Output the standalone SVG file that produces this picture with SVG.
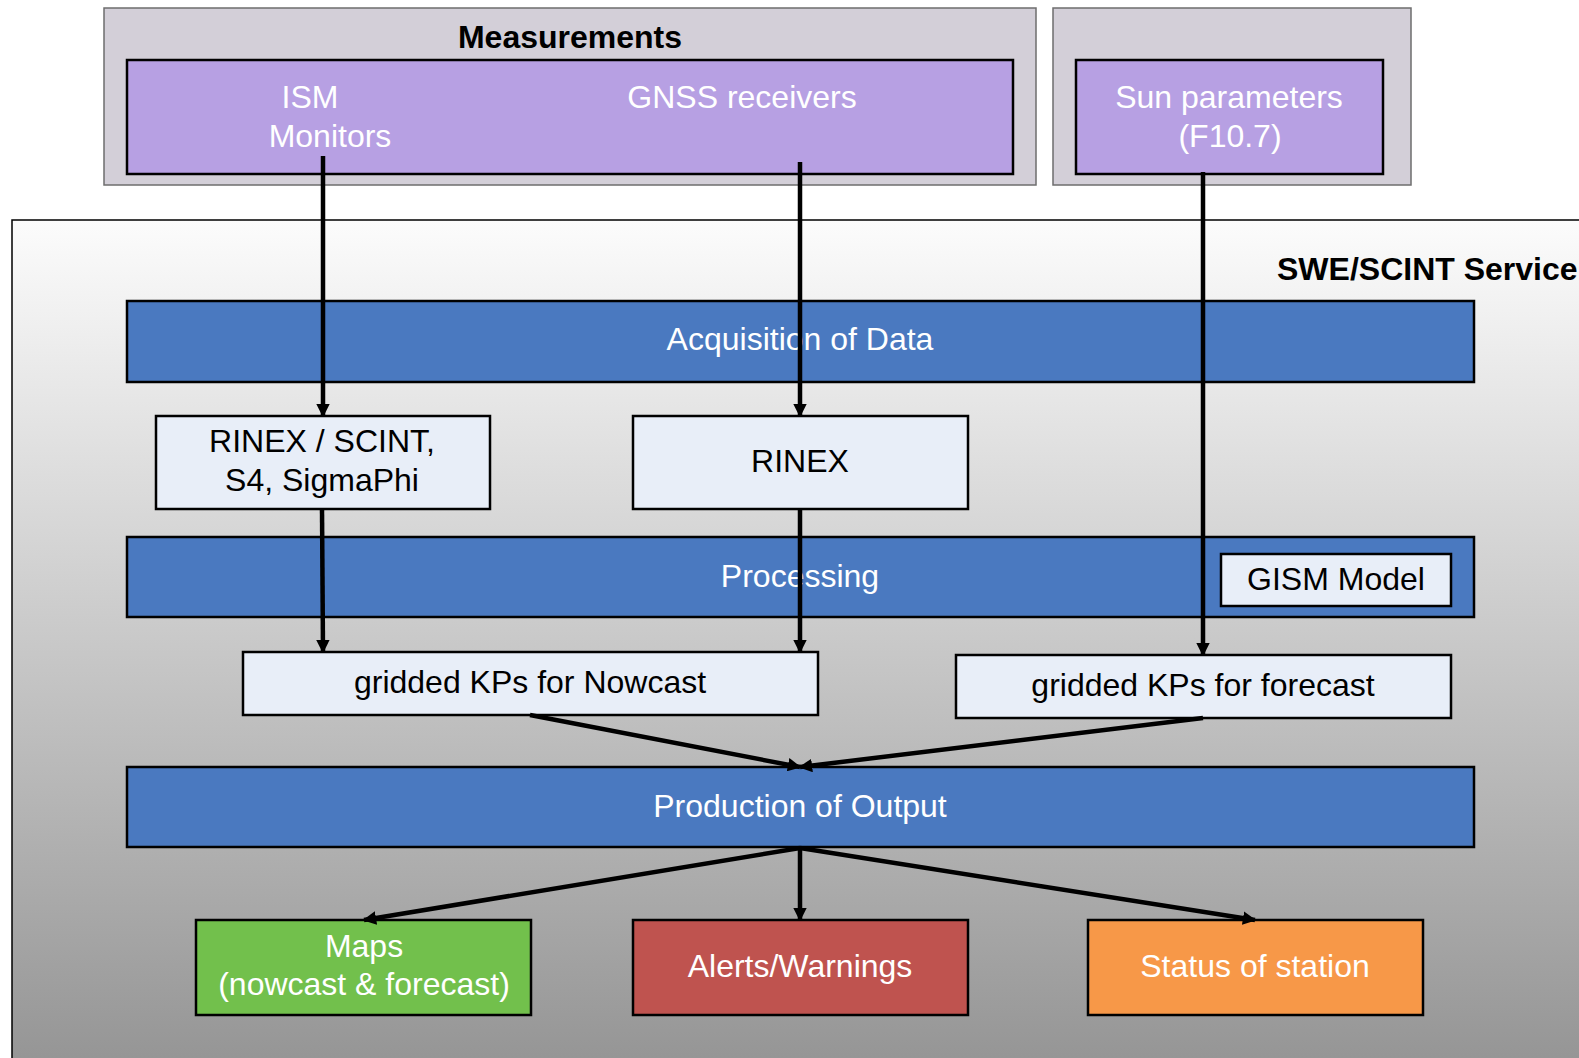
<svg xmlns="http://www.w3.org/2000/svg" width="1579" height="1058" viewBox="0 0 1579 1058">
<defs>
<linearGradient id="svcGrad" x1="0" y1="0" x2="0" y2="1">
<stop offset="0" stop-color="#fcfcfc"/>
<stop offset="1" stop-color="#939393"/>
</linearGradient>
<marker id="arr" viewBox="0 0 10 10" refX="9" refY="5" markerWidth="3" markerHeight="3" orient="auto" markerUnits="strokeWidth">
<path d="M0,0 L10,5 L0,10 z" fill="#000"/>
</marker>
</defs>
<style>
.t{font-family:"Liberation Sans",Arial,sans-serif;font-size:32px;text-anchor:middle}
.w{fill:#ffffff}
.k{fill:#000000}
.b{font-weight:bold}
.grp{fill:#d3cfd8;stroke:#6e6e6e;stroke-width:1.5}
.pur{fill:#b7a0e3;stroke:#000;stroke-width:2.5}
.bar{fill:#4a79c0;stroke:#000;stroke-width:2.5}
.lt{fill:#e8eef8;stroke:#000;stroke-width:2.5}
.con{stroke:#000;stroke-width:4.5;fill:none}
</style>

<g id="service">
<rect x="12" y="220" width="1600" height="860" fill="url(#svcGrad)" stroke="#000" stroke-width="1.5"/>
<text class="t k b" x="1277" y="280" style="text-anchor:start">SWE/SCINT Service</text>
</g>

<g id="measurements">
<rect class="grp" x="104" y="8" width="932" height="177"/>
<text class="t k b" x="570" y="48">Measurements</text>
<rect class="pur" x="127" y="60" width="886" height="114"/>
<text class="t w" x="310" y="108">ISM</text>
<text class="t w" x="330" y="147">Monitors</text>
<text class="t w" x="742" y="108">GNSS receivers</text>
</g>

<g id="sun">
<rect class="grp" x="1053" y="8" width="358" height="177"/>
<rect class="pur" x="1076" y="60" width="307" height="114"/>
<text class="t w" x="1229" y="108">Sun parameters</text>
<text class="t w" x="1230" y="147">(F10.7)</text>
</g>

<g id="acquisition">
<rect class="bar" x="127" y="301" width="1347" height="81"/>
<text class="t w" x="800" y="350">Acquisition of Data</text>
</g>

<g id="rinex-scint">
<rect class="lt" x="156" y="416" width="334" height="93"/>
<text class="t k" x="322" y="452">RINEX / SCINT,</text>
<text class="t k" x="322" y="491">S4, SigmaPhi</text>
</g>

<g id="rinex">
<rect class="lt" x="633" y="416" width="335" height="93"/>
<text class="t k" x="800" y="472">RINEX</text>
</g>

<g id="processing">
<rect class="bar" x="127" y="537" width="1347" height="80"/>
<text class="t w" x="800" y="587">Processing</text>
</g>

<g id="gism">
<rect class="lt" x="1221" y="554" width="230" height="52"/>
<text class="t k" x="1336" y="590">GISM Model</text>
</g>

<g id="nowcast">
<rect class="lt" x="243" y="652" width="575" height="63"/>
<text class="t k" x="530" y="693">gridded KPs for Nowcast</text>
</g>

<g id="forecast">
<rect class="lt" x="956" y="655" width="495" height="63"/>
<text class="t k" x="1203" y="696">gridded KPs for forecast</text>
</g>

<g id="production">
<rect class="bar" x="127" y="767" width="1347" height="80"/>
<text class="t w" x="800" y="817">Production of Output</text>
</g>

<g id="maps">
<rect x="196" y="920" width="335" height="95" fill="#72c04c" stroke="#000" stroke-width="2.5"/>
<text class="t w" x="364" y="957">Maps</text>
<text class="t w" x="364" y="995">(nowcast &amp; forecast)</text>
</g>

<g id="alerts">
<rect x="633" y="920" width="335" height="95" fill="#bf534f" stroke="#000" stroke-width="2.5"/>
<text class="t w" x="800" y="977">Alerts/Warnings</text>
</g>

<g id="status">
<rect x="1088" y="920" width="335" height="95" fill="#f79848" stroke="#000" stroke-width="2.5"/>
<text class="t w" x="1255" y="977">Status of station</text>
</g>

<g id="connectors">
<line class="con" x1="323" y1="156" x2="323" y2="416" marker-end="url(#arr)"/>
<line class="con" x1="800" y1="162" x2="800" y2="416" marker-end="url(#arr)"/>
<line class="con" x1="1203" y1="172" x2="1203" y2="655" marker-end="url(#arr)"/>
<line class="con" x1="322" y1="509" x2="323" y2="652" marker-end="url(#arr)"/>
<line class="con" x1="800" y1="509" x2="800" y2="652" marker-end="url(#arr)"/>
<line class="con" x1="530" y1="715" x2="800" y2="767" marker-end="url(#arr)"/>
<line class="con" x1="1203" y1="718" x2="800" y2="767" marker-end="url(#arr)"/>
<line class="con" x1="800" y1="848" x2="364" y2="920" marker-end="url(#arr)"/>
<line class="con" x1="800" y1="848" x2="800" y2="920" marker-end="url(#arr)"/>
<line class="con" x1="800" y1="848" x2="1255" y2="920" marker-end="url(#arr)"/>
</g>
</svg>
